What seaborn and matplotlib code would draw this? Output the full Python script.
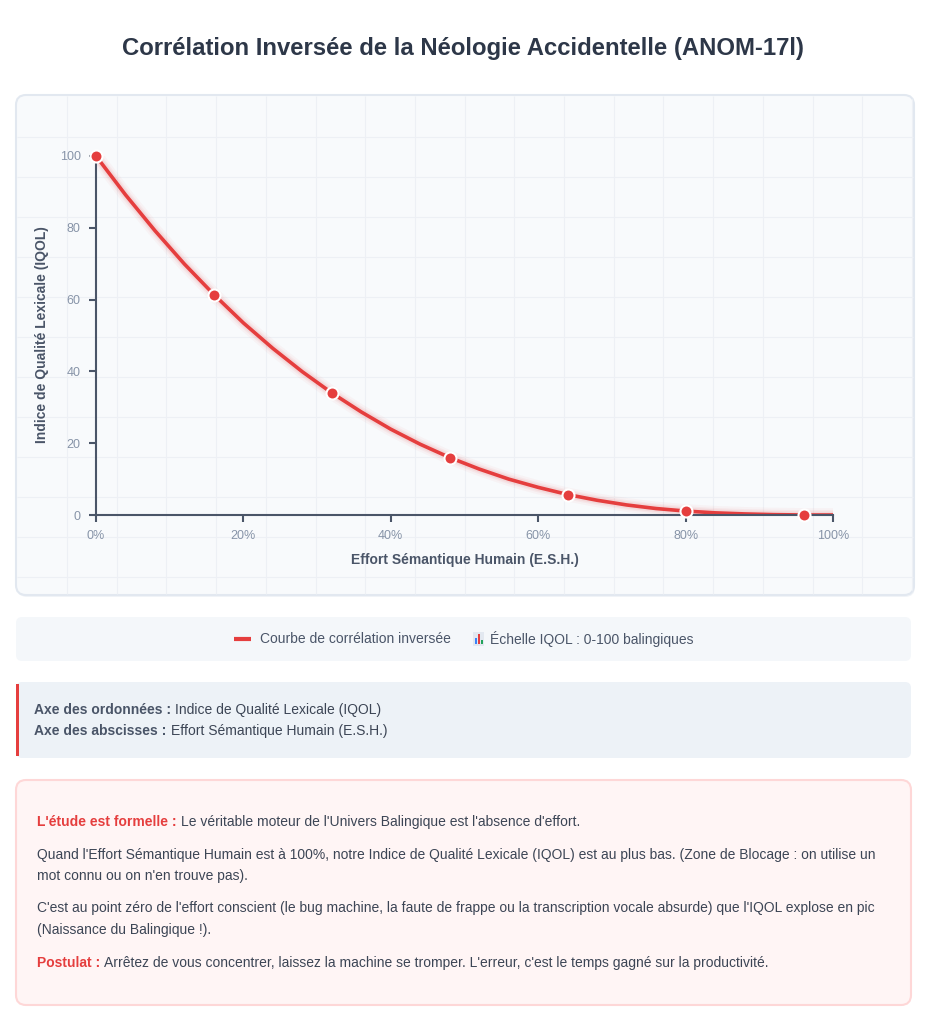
import pandas as pd
import seaborn as sns
import matplotlib.pyplot as plt
from matplotlib.patches import FancyBboxPatch, Rectangle

# Data (every 4 % of effort)
effort = [0, 4, 8, 12, 16, 20, 24, 28, 32, 36, 40, 44, 48,
          52, 56, 60, 64, 68, 72, 76, 80, 84, 88, 92, 96, 100]
iqol = [100, 89.2, 79.2, 69.9, 61.4, 53.5, 46.4, 39.9, 34.0, 28.7, 23.9, 19.7, 16.0,
        12.8, 10.0, 7.7, 5.7, 4.1, 2.8, 1.8, 1.1, 0.6, 0.3, 0.1, 0.0, 0.0]
x_ticks = [0, 20, 40, 60, 80, 100]
x_tick_labels = ['0%', '20%', '40%', '60%', '80%', '100%']
y_ticks = [0, 20, 40, 60, 80, 100]

df = pd.DataFrame({'effort': effort, 'iqol': iqol})
df_pts = df.iloc[:-1:4]

RED = '#e53e3e'
DARK = '#2d3748'
AXIS = '#4a5568'
TEXT = '#3c4555'

sns.set_theme(style='ticks')
plt.rcParams['font.family'] = ['Liberation Sans', 'DejaVu Sans']

W, H = 926, 1024
fig = plt.figure(figsize=(W / 100, H / 100), dpi=100)
fig.patch.set_facecolor('white')

# background layer in pixel coordinates
bg = fig.add_axes([0, 0, 1, 1])
bg.set_xlim(0, W)
bg.set_ylim(H, 0)
bg.axis('off')
bg.set_zorder(0)


def card(x0, y0, x1, y1, fc, ec='none', r=8, lw=1.0, z=1):
    p = FancyBboxPatch((x0 + r, y0 + r), x1 - x0 - 2 * r, y1 - y0 - 2 * r,
                       boxstyle=f'round,pad={r}', fc=fc, ec=ec, lw=lw, zorder=z)
    bg.add_patch(p)
    return p


def rich_line(x, y, head, tail, head_color, size=10):
    t1 = bg.text(x, y, head, fontsize=size, fontweight='bold', color=head_color,
                 va='center', ha='left', zorder=5)
    bg.annotate(tail, xy=(1, 0.5), xycoords=t1, xytext=(3, 0), textcoords='offset points',
                fontsize=size, color=TEXT, va='center', ha='left', zorder=5)


# title
bg.text(463, 48, 'Corrélation Inversée de la Néologie Accidentelle (ANOM-17l)',
        ha='center', va='center', fontsize=17.2, fontweight='bold', color=DARK)

# chart card + faint background grid
card(17, 97, 915, 597, '#f1f4f8', r=10, z=0.5)
chart_card = card(16, 95, 914, 595, '#f8fafc', '#e2e8f0', r=10, lw=1.5)
gx = [67 + 49.7 * i for i in range(18)]
gy = [137 + 40 * i for i in range(12)]
vl = bg.vlines(gx, 96, 594, color='#edf0f5', lw=0.8, zorder=1.5)
hl = bg.hlines(gy, 17, 913, color='#edf0f5', lw=0.8, zorder=1.5)
vl.set_clip_path(chart_card)
hl.set_clip_path(chart_card)

# main plot
ax = fig.add_axes([96 / W, 1 - 515 / H, (833 - 96) / W, (515 - 156) / H])
ax.set_zorder(2)
ax.patch.set_alpha(0)
for w, a in [(10, 0.04), (7, 0.06), (5, 0.08)]:
    sns.lineplot(data=df, x='effort', y='iqol', ax=ax, color=RED, lw=w, alpha=a)
sns.lineplot(data=df, x='effort', y='iqol', ax=ax, color=RED, lw=2.6)
sns.scatterplot(data=df_pts, x='effort', y='iqol', ax=ax, color=RED, s=75,
                edgecolor='white', linewidth=1.5, zorder=5, clip_on=False)
ax.set_xlim(0, 100)
ax.set_ylim(0, 100)
ax.set_xticks(x_ticks)
ax.set_xticklabels(x_tick_labels)
ax.set_yticks(y_ticks)
ax.set_xlabel('')
ax.set_ylabel('')
for s in ['top', 'right']:
    ax.spines[s].set_visible(False)
for s in ['left', 'bottom']:
    ax.spines[s].set_color(AXIS)
    ax.spines[s].set_linewidth(1.5)
ax.tick_params(length=5, width=1.5, color=AXIS, labelcolor='#8794a8', labelsize=9, pad=6)

bg.text(465, 560, 'Effort Sémantique Humain (E.S.H.)', ha='center', va='center',
        fontsize=10, fontweight='bold', color=AXIS)
bg.text(42, 335, 'Indice de Qualité Lexicale (IQOL)', ha='center', va='center',
        rotation=90, fontsize=10, fontweight='bold', color=AXIS)

# legend strip
card(16, 617, 911, 661, '#f4f7fa', r=6)
bg.plot([234, 251], [639, 639], color=RED, lw=3, solid_capstyle='butt', zorder=5)
bg.text(260, 639, 'Courbe de corrélation inversée', va='center', fontsize=10, color=AXIS, zorder=5)
bg.add_patch(Rectangle((473, 632), 11, 14, fc='#e2e8f0', ec='none', zorder=5))
bg.add_patch(Rectangle((475, 638), 2, 6, fc='#3b82f6', ec='none', zorder=6))
bg.add_patch(Rectangle((478, 634), 2, 10, fc='#e53e3e', ec='none', zorder=6))
bg.add_patch(Rectangle((481, 640), 2, 4, fc='#22a35a', ec='none', zorder=6))
bg.text(490, 639, 'Échelle IQOL : 0-100 balingiques', va='center', fontsize=10, color=AXIS, zorder=5)

# axis description box
card(16, 682, 911, 758, '#edf2f7', r=6)
bg.add_patch(Rectangle((16, 684), 3, 72, fc=RED, ec='none', zorder=3))
rich_line(34, 710, 'Axe des ordonnées :', 'Indice de Qualité Lexicale (IQOL)', AXIS)
rich_line(34, 731, 'Axe des abscisses :', 'Effort Sémantique Humain (E.S.H.)', AXIS)

# explanation box
card(16, 780, 911, 1005, '#fff5f5', '#fed7d7', r=10, lw=1.5)
rich_line(37, 822, "L'étude est formelle :",
          "Le véritable moteur de l'Univers Balingique est l'absence d'effort.", RED)
bg.text(37, 855, "Quand l'Effort Sémantique Humain est à 100%, notre Indice de Qualité Lexicale "
        "(IQOL) est au plus bas. (Zone de Blocage : on utilise un",
        va='center', fontsize=10, color=TEXT, zorder=5)
bg.text(37, 876, "mot connu ou on n'en trouve pas).", va='center', fontsize=10, color=TEXT, zorder=5)
bg.text(37, 908, "C'est au point zéro de l'effort conscient (le bug machine, la faute de frappe "
        "ou la transcription vocale absurde) que l'IQOL explose en pic",
        va='center', fontsize=10, color=TEXT, zorder=5)
bg.text(37, 930, '(Naissance du Balingique !).', va='center', fontsize=10, color=TEXT, zorder=5)
rich_line(37, 963, 'Postulat :',
          "Arrêtez de vous concentrer, laissez la machine se tromper. L'erreur, "
          "c'est le temps gagné sur la productivité.", RED)

fig.savefig('out.png', dpi=100)
